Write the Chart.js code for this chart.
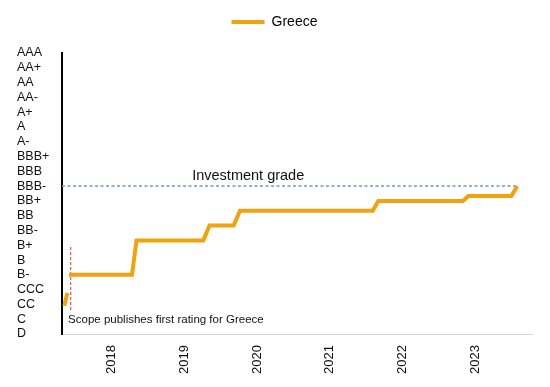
<!DOCTYPE html>
<html>
<head>
<meta charset="utf-8">
<script src="https://cdn.jsdelivr.net/npm/chart.js@4/dist/chart.umd.min.js"></script>
<style>
  html, body { margin: 0; padding: 0; background: #fff; }
  #wrap { width: 550px; height: 387px; }
</style>
</head>
<body>
<div id="wrap"><canvas id="rating-chart"></canvas></div>
<script>
// rating scale, top to bottom as printed on the axis
const ratingLabels = ['AAA', 'AA+', 'AA', 'AA-', 'A+', 'A', 'A-', 'BBB+', 'BBB', 'BBB-',
  'BB+', 'BB', 'BB-', 'B+', 'B', 'B-', 'CCC', 'CC', 'C', 'D'];
const yearTicks = [2018, 2019, 2020, 2021, 2022, 2023];

// Greece rating path (decimal year, notch score: D = 0 ... AAA = 19)
const greeceDates = [2017.348, 2017.389, 2017.400, 2017.412, 2018.279, 2018.341, 2019.260, 2019.346,
  2019.679, 2019.765, 2021.593, 2021.669, 2022.834, 2022.907, 2023.500, 2023.581];
const greeceScores = [1.9, 2.77, null, 4, 4, 6.33, 6.33, 7.33,
  7.33, 8.33, 8.33, 9, 9, 9.33, 9.33, 10];

const investmentGrade = 10;
const gradeLineDates = [2017.316, 2023.56];
const scopeStartDate = 2017.436;
const scopeLineScores = [1.62, 5.9];
const xRange = [2017.316, 2023.784];

const COLORS = {
  greece: '#f2a20c',
  grade: '#6f95d2',
  scope: '#e8332f',
  text: '#111',
  axis: '#000',
  baseAxis: '#d4d4d4',
};

const FONT = "'Liberation Sans', Arial, sans-serif";

// notes drawn in data coordinates
const notesPlugin = {
  id: 'notes',
  afterDatasetsDraw(chart) {
    const { ctx, scales: { x, y } } = chart;
    ctx.save();
    ctx.fillStyle = COLORS.text;
    ctx.textBaseline = 'middle';
    ctx.textAlign = 'left';
    ctx.font = `14.5px ${FONT}`;
    ctx.fillText('Investment grade', x.getPixelForValue(2019.108), y.getPixelForValue(10.68));
    ctx.font = `11.5px ${FONT}`;
    ctx.fillText('Scope publishes first rating for Greece', x.getPixelForValue(2017.40), y.getPixelForValue(0.95));
    ctx.restore();
  },
};

// fixed legend height so the plot starts where the reference does
const legendHeightPlugin = {
  id: 'legendHeight',
  beforeInit(chart) {
    const fit = chart.legend.fit;
    chart.legend.fit = function () {
      fit.bind(chart.legend)();
      this.height = 48;
    };
  },
};

new Chart(document.getElementById('rating-chart'), {
  type: 'line',
  data: {
    datasets: [
      {
        label: 'Greece',
        data: greeceDates.map((d, i) => ({ x: d, y: greeceScores[i] })),
        borderColor: COLORS.greece,
        backgroundColor: COLORS.greece,
        borderWidth: 4,
        pointRadius: 0,
        spanGaps: false,
        tension: 0,
      },
      {
        label: 'Investment grade',
        data: gradeLineDates.map((d) => ({ x: d, y: investmentGrade })),
        borderColor: COLORS.grade,
        borderWidth: 1.5,
        borderDash: [3, 2.5],
        pointRadius: 0,
      },
      {
        label: 'Scope start',
        data: scopeLineScores.map((s) => ({ x: scopeStartDate, y: s })),
        borderColor: COLORS.scope,
        borderWidth: 1,
        borderDash: [3, 2],
        pointRadius: 0,
      },
    ],
  },
  options: {
    responsive: true,
    maintainAspectRatio: false,
    animation: false,
    layout: { padding: { top: 5, left: 17, right: 18, bottom: 0 } },
    plugins: {
      legend: {
        labels: {
          filter: (item) => item.datasetIndex === 0,
          boxWidth: 33,
          boxHeight: 4,
          color: COLORS.text,
          font: { family: FONT, size: 14 },
          generateLabels(chart) {
            const ds = chart.data.datasets[0];
            return [{ text: ds.label, fillStyle: ds.borderColor, strokeStyle: ds.borderColor, lineWidth: 0, datasetIndex: 0 }];
          },
        },
      },
      tooltip: { enabled: false },
    },
    scales: {
      x: {
        type: 'linear',
        min: xRange[0],
        max: xRange[1],
        afterBuildTicks(scale) {
          scale.ticks = yearTicks.map((v) => ({ value: v }));
        },
        afterFit(scale) { scale.height = 53; },
        grid: { display: false, drawTicks: false },
        border: { color: COLORS.baseAxis, width: 1 },
        ticks: {
          autoSkip: false,
          minRotation: 90,
          maxRotation: 90,
          padding: 11,
          color: COLORS.text,
          font: { family: FONT, size: 13 },
          callback: (v) => String(v),
        },
      },
      y: {
        type: 'linear',
        min: 0,
        max: ratingLabels.length - 1,
        afterBuildTicks(scale) {
          scale.ticks = ratingLabels.map((_, i) => ({ value: i }));
        },
        afterFit(scale) { scale.width = 45; },
        grid: { display: false, drawTicks: false },
        border: { color: COLORS.axis, width: 2 },
        ticks: {
          crossAlign: 'far',
          autoSkip: false,
          color: COLORS.text,
          font: { family: FONT, size: 12.5 },
          callback: (v) => ratingLabels[ratingLabels.length - 1 - v],
        },
      },
    },
  },
  plugins: [notesPlugin, legendHeightPlugin],
});
</script>
</body>
</html>
